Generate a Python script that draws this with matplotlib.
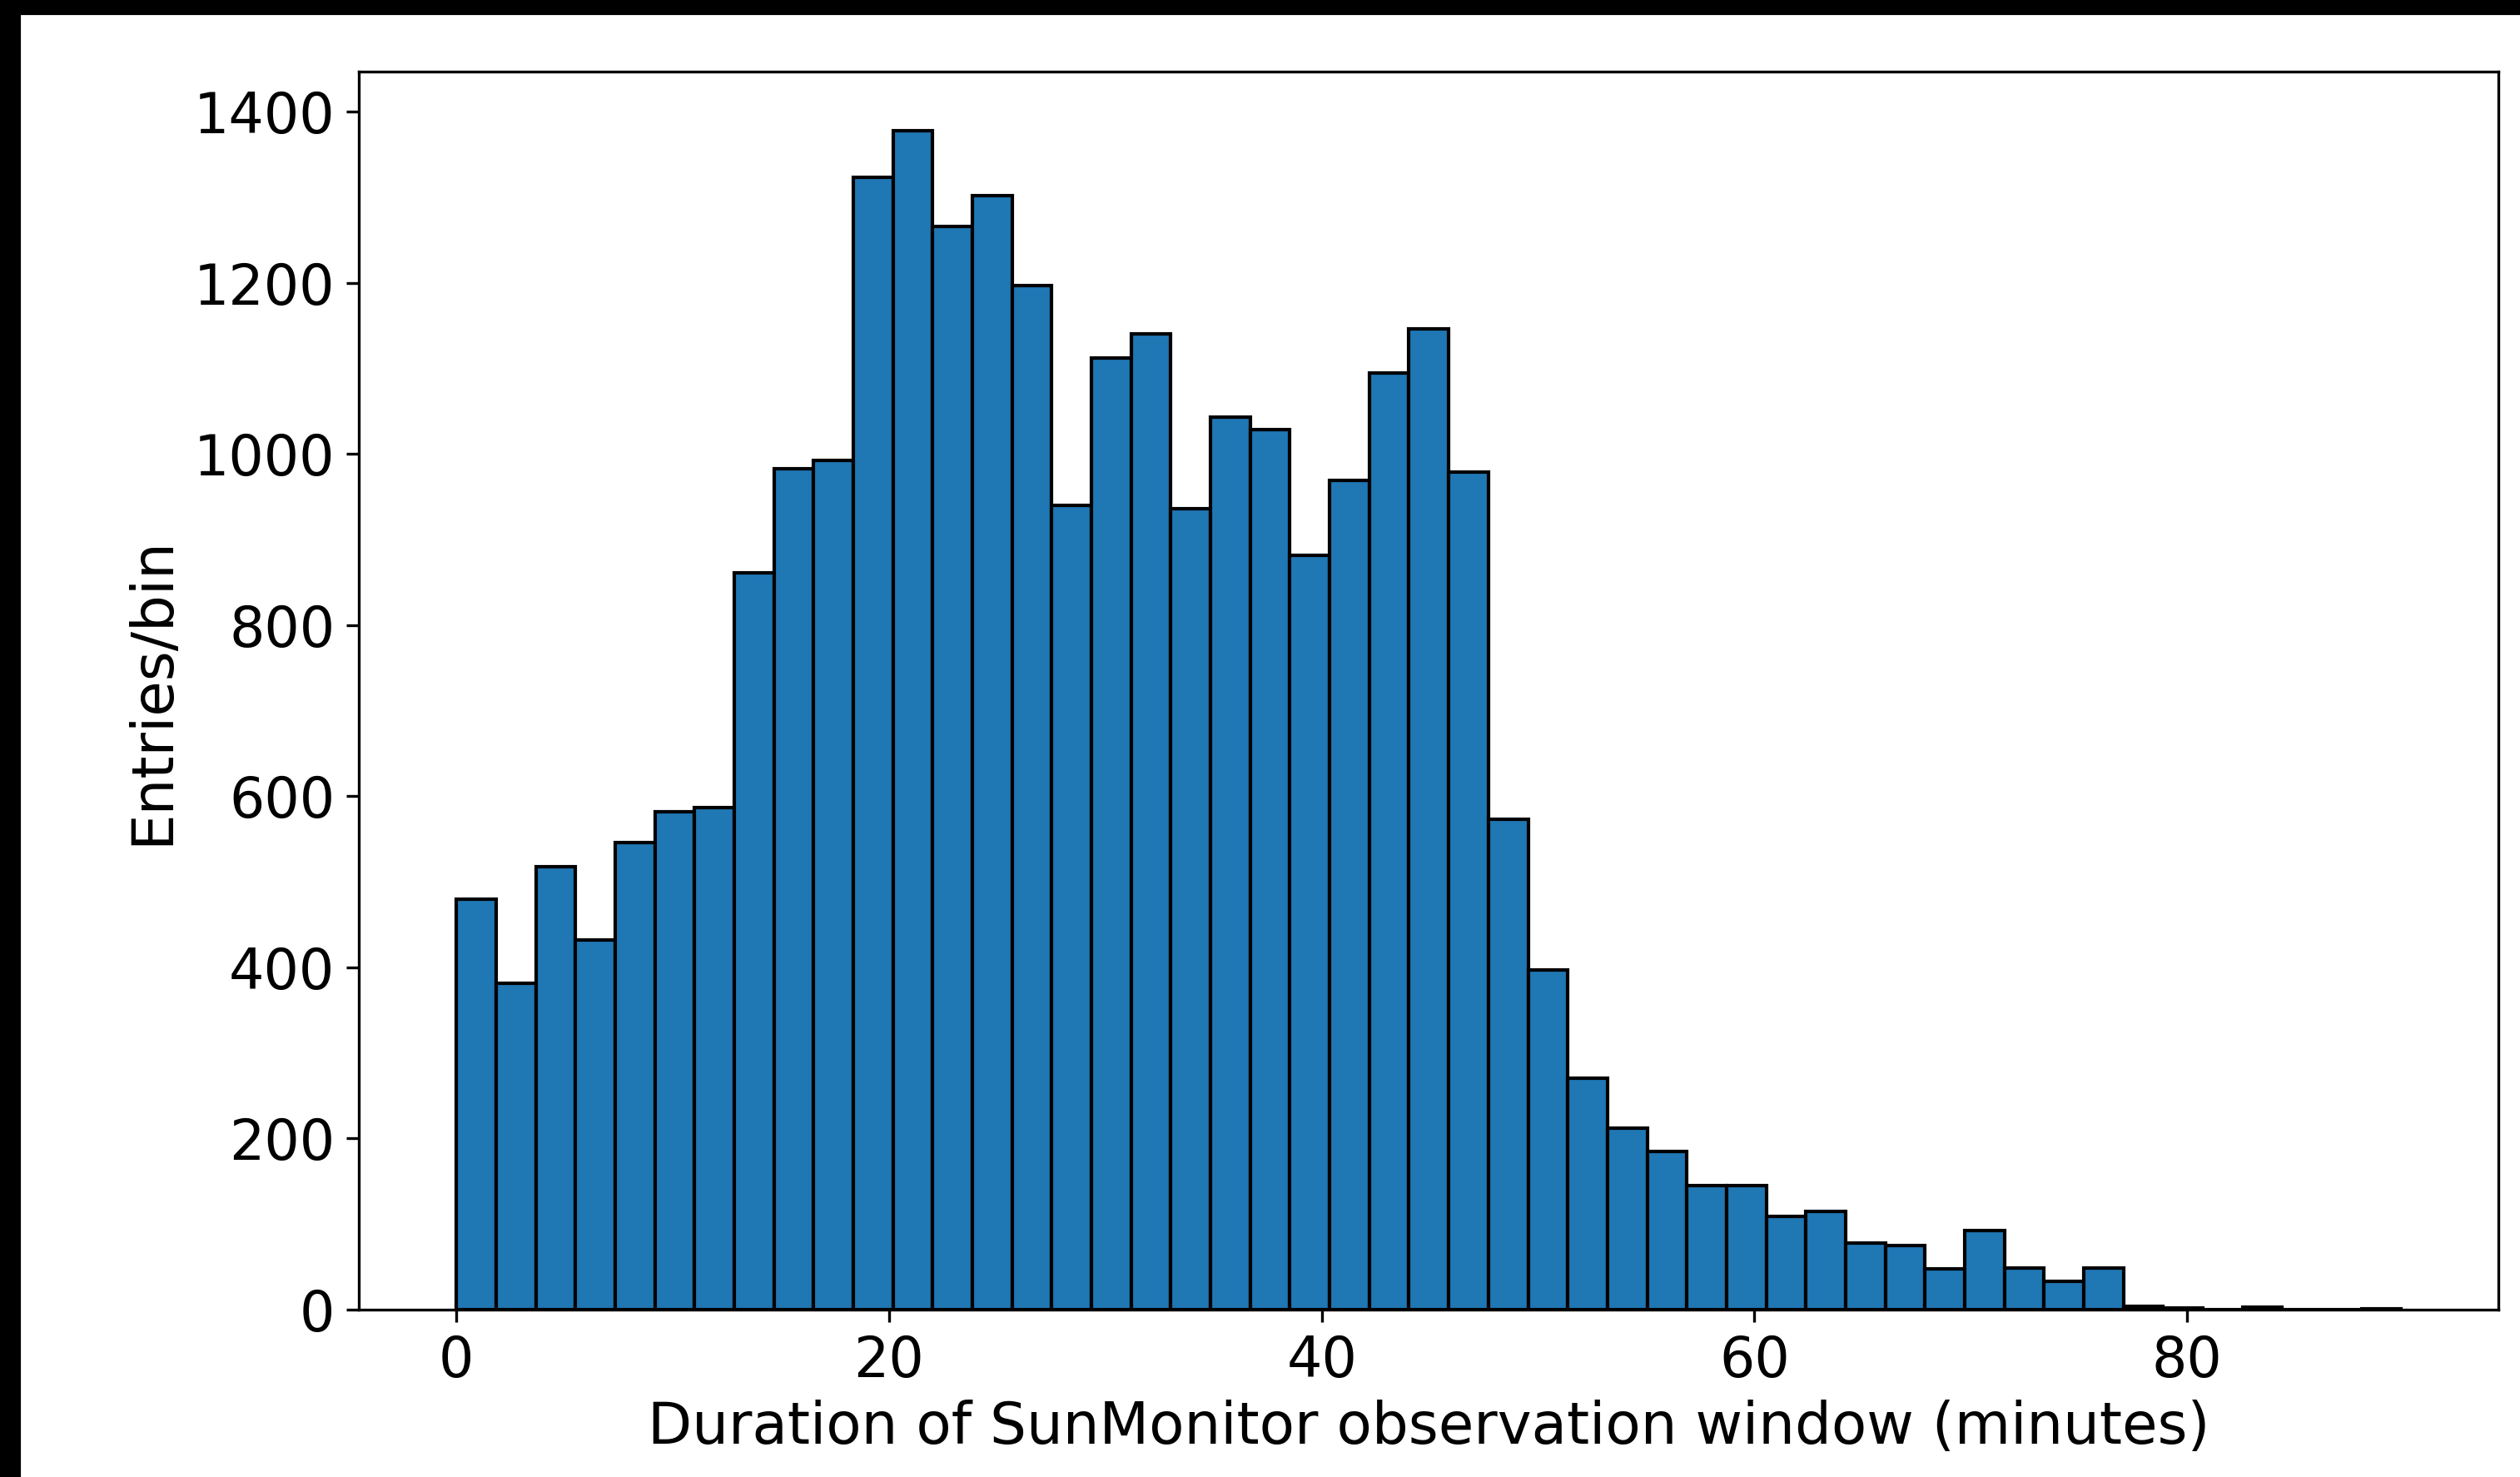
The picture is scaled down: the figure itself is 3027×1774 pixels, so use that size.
import numpy as np
import matplotlib.pyplot as plt
from matplotlib.patches import Rectangle


# entries per bin (49 equal bins)
counts = [480, 381, 518, 432, 546, 582, 587, 861, 983, 993, 1323, 1378,
          1266, 1302, 1197, 940, 1112, 1140, 936, 1043, 1029, 882, 969, 1095,
          1146, 979, 573, 397, 271, 212, 185, 145, 145, 109, 115, 78,
          75, 48, 92, 49, 33, 49, 4, 2, 0, 3, 0, 0, 1]
x_min = 0.0
x_max = 89.9
n_bins = 49

x_ticks = [0, 20, 40, 60, 80]
y_ticks = [0, 200, 400, 600, 800, 1000, 1200, 1400]

x_label = "Duration of SunMonitor observation window (minutes)"
y_label = "Entries/bin"


def plot_histogram(counts, x_min, x_max, n_bins):
    '''
    Draws the pre-binned histogram of the observation window durations.
    '''
    edges = np.linspace(x_min, x_max, n_bins + 1)
    centers = 0.5 * (edges[:-1] + edges[1:])

    fig = plt.figure(figsize=(3027 / 300, 1774 / 300), dpi=300)
    ax = fig.add_axes([0.1425, 0.1133, 0.849, 0.8382])

    ax.hist(centers, bins=edges, weights=counts, color='#1f77b4', edgecolor='black', linewidth=1.0)

    ax.set_xticks(x_ticks)
    ax.set_yticks(y_ticks)
    ax.tick_params(labelsize=16)
    ax.set_xlabel(x_label, fontsize=16.6, labelpad=3)
    ax.set_ylabel(y_label, fontsize=16.6)

    # black screenshot borders on the left and top
    fig.patches.append(Rectangle((0, 0), 23 / 3027, 1, transform=fig.transFigure, color='black', zorder=10))
    fig.patches.append(Rectangle((0, 1 - 16 / 1774), 1, 16 / 1774, transform=fig.transFigure, color='black', zorder=10))

    fig.savefig('out.png', dpi=300)


plot_histogram(counts, x_min, x_max, n_bins)
